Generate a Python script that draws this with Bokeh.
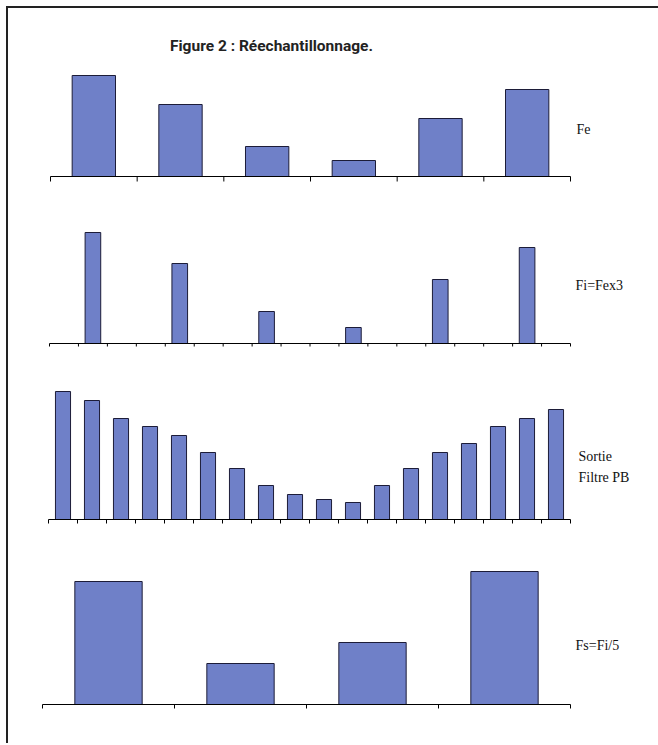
from bokeh.plotting import figure
from bokeh.models import Range1d, Label, ColumnDataSource
from bokeh.layouts import column
from bokeh.embed import file_html
from bokeh.resources import INLINE

# ---------------- data (bar heights) ----------------
title_text = "Figure 2 : Réechantillonnage."
fe_values = [101, 72, 30, 16, 58, 87]
fi_values = [0, 111, 0, 0, 80, 0, 0, 32, 0, 0, 16, 0, 0, 64, 0, 0, 96, 0]
filt_values = [128, 119, 101, 93, 84, 67, 51, 34, 25, 20, 17, 34, 51, 67, 76, 93, 101, 110]
fs_values = [123, 41, 62, 133]
fe_label = ["Fe"]
fi_label = ["Fi=Fex3"]
filt_label = ["Sortie", "Filtre PB"]
fs_label = ["Fs=Fi/5"]

BAR_FILL = "#6f80c8"
BAR_LINE = "#1c1c38"
LABEL_FONT = "Liberation Serif"

CANVAS_X0 = 8       # page x of the canvas left edge
CANVAS_W = 650


def make_panel(values, top, bottom, baseline, x_left, x_right, bar_w, tick_len):
    n = len(values)
    px_per = (x_right - x_left) / n
    x_start = -(x_left - CANVAS_X0) / px_per
    x_end = (CANVAS_X0 + CANVAS_W - x_left) / px_per
    height = bottom - top
    p = figure(width=CANVAS_W, height=height,
               x_range=Range1d(x_start, x_end),
               y_range=Range1d(baseline - bottom, baseline - top),
               x_axis_location=None, y_axis_location=None,
               toolbar_location=None, output_backend="svg",
               min_border_left=0, min_border_right=0, min_border_top=0,
               min_border_bottom=0, outline_line_color=None,
               background_fill_color="white", border_fill_color="white")
    p.xgrid.visible = False
    p.ygrid.visible = False
    xs = [i + 0.5 for i, v in enumerate(values) if v > 0]
    tops = [v for v in values if v > 0]
    src = ColumnDataSource(dict(x=xs, top=tops))
    p.vbar(x="x", top="top", bottom=0, width=bar_w, source=src,
           fill_color=BAR_FILL, line_color=BAR_LINE, line_width=1)
    # x axis: base line and tick marks at each sample boundary
    p.segment(x0=[0], y0=[0], x1=[n], y1=[0], line_color="black", line_width=1.2)
    ticks = list(range(n + 1))
    p.segment(x0=ticks, y0=[0] * len(ticks), x1=ticks, y1=[-tick_len] * len(ticks),
              line_color="black", line_width=1)
    return p, px_per


def add_label(p, text, x, y, size="14px", font=LABEL_FONT, align="left", style="normal",
              color="#111111"):
    p.add_layout(Label(x=x, y=y, text=text, text_font=font,
                       text_font_size=size, text_align=align, text_font_style=style,
                       text_baseline="middle", text_color=color))


# Panel 1: Fe
p1, u1 = make_panel(fe_values, 8, 200, 176, 50, 570, 0.5, 5)
add_label(p1, title_text, (271 - 50) / u1, 131, size="15.5px", font="Roboto",
          align="center", style="bold", color="#222222")
add_label(p1, fe_label[0], (576 - 50) / u1, 47)

# Panel 2: Fi = Fe x 3
p2, u2 = make_panel(fi_values, 200, 360, 343, 49, 570, 0.54, 3)
add_label(p2, fi_label[0], (575 - 49) / u2, 58)

# Panel 3: low-pass filter output
p3, u3 = make_panel(filt_values, 360, 535, 519, 48, 570, 0.52, 4)
add_label(p3, filt_label[0], (578 - 48) / u3, 63)
add_label(p3, filt_label[1], (578 - 48) / u3, 42)

# Panel 4: Fs = Fi / 5
p4, u4 = make_panel(fs_values, 535, 743, 704, 42, 570, 0.51, 4)
add_label(p4, fs_label[0], (575 - 42) / u4, 59)

layout = column(p1, p2, p3, p4, spacing=0,
                styles={"margin-left": "6px", "margin-top": "6px",
                        "border-top": "2px solid #222", "border-left": "2px solid #222"})

open("out.html", "w").write(file_html(layout, INLINE))
